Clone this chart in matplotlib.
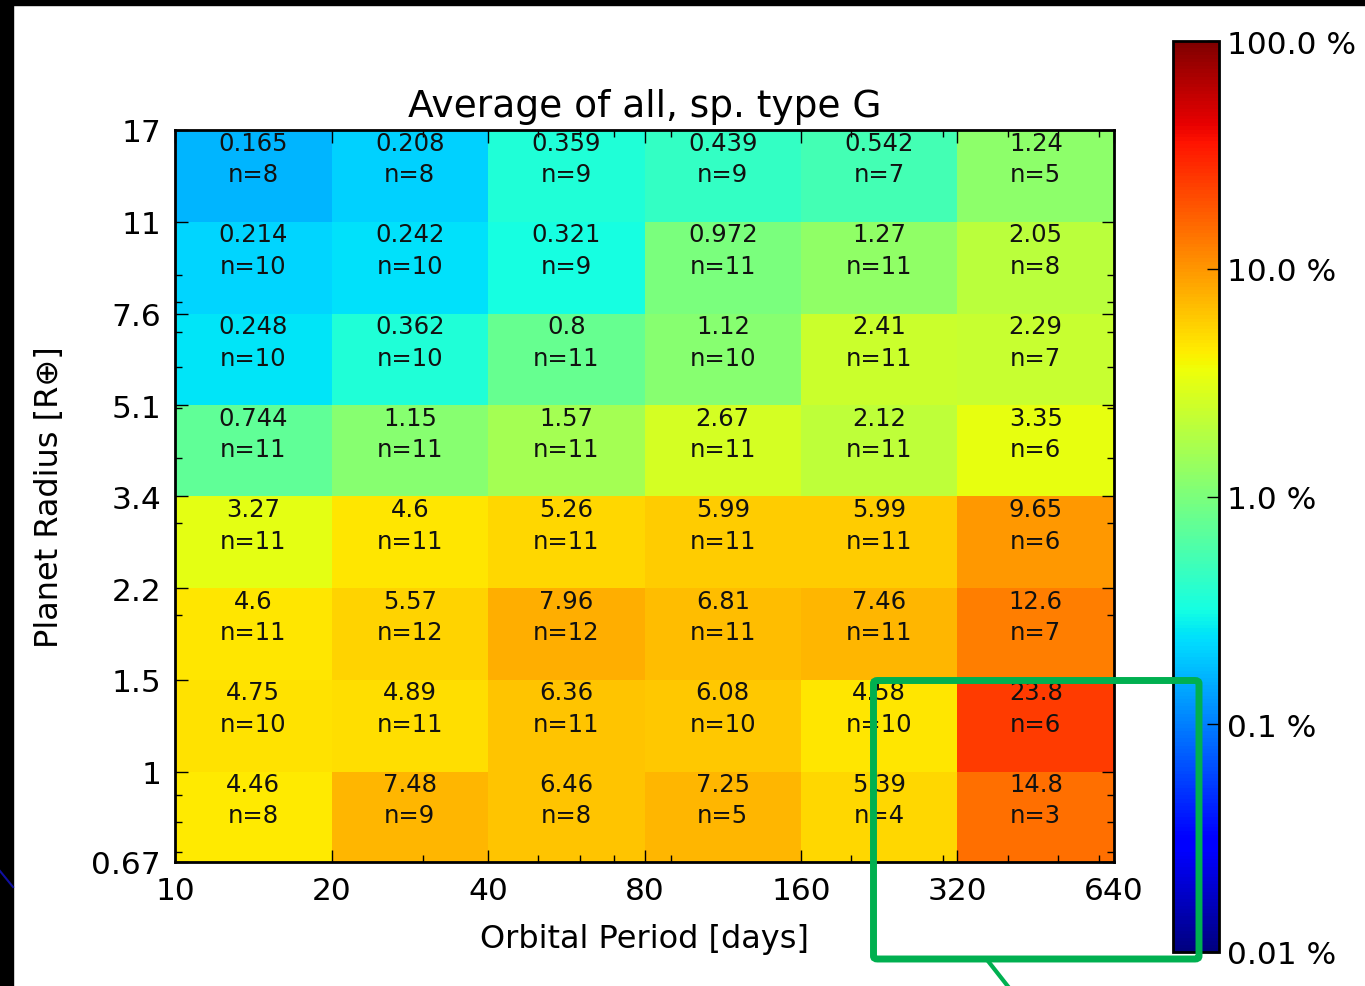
import matplotlib
matplotlib.use("Agg")
import matplotlib.pyplot as plt
import numpy as np
from matplotlib.colors import LogNorm
from matplotlib.patches import Rectangle, FancyBboxPatch
from matplotlib.lines import Line2D

# bin edges and labels
period_edges = [10, 20, 40, 80, 160, 320, 640]
period_labels = ['10', '20', '40', '80', '160', '320', '640']
radius_edges = [0.67, 1.0, 1.5, 2.25, 3.38, 5.06, 7.59, 11.4, 17.1]
radius_labels = ['0.67', '1', '1.5', '2.2', '3.4', '5.1', '7.6', '11', '17']

# occurrence rate [%], rows from smallest radius bin (0.67-1) up to 11-17
rate = [
    [4.46, 7.48, 6.46, 7.25, 5.39, 14.8],
    [4.75, 4.89, 6.36, 6.08, 4.58, 23.8],
    [4.6, 5.57, 7.96, 6.81, 7.46, 12.6],
    [3.27, 4.6, 5.26, 5.99, 5.99, 9.65],
    [0.744, 1.15, 1.57, 2.67, 2.12, 3.35],
    [0.248, 0.362, 0.8, 1.12, 2.41, 2.29],
    [0.214, 0.242, 0.321, 0.972, 1.27, 2.05],
    [0.165, 0.208, 0.359, 0.439, 0.542, 1.24],
]
# number of planets per cell
counts = [
    [8, 9, 8, 5, 4, 3],
    [10, 11, 11, 10, 10, 6],
    [11, 12, 12, 11, 11, 7],
    [11, 11, 11, 11, 11, 6],
    [11, 11, 11, 11, 11, 6],
    [10, 10, 11, 10, 11, 7],
    [10, 10, 9, 11, 11, 8],
    [8, 8, 9, 9, 7, 5],
]
cbar_ticks = [0.01, 0.1, 1, 10, 100]
cbar_labels = ['0.01 %', '0.1 %', '1.0 %', '10.0 %', '100.0 %']

plt.rcParams['font.family'] = 'DejaVu Sans'
W, H = 1365, 987
fig = plt.figure(figsize=(W / 100, H / 100), dpi=100)
fig.patch.set_facecolor('white')

ax = fig.add_axes([175 / W, 1 - 863 / H, (1114 - 175) / W, (863 - 131) / H])
norm = LogNorm(vmin=0.01, vmax=100)
mesh = ax.pcolormesh(period_edges, radius_edges, np.array(rate), cmap='jet', norm=norm)
ax.set_xscale('log')
ax.set_yscale('log')
ax.set_xlim(period_edges[0], period_edges[-1])
ax.set_ylim(radius_edges[0], radius_edges[-1])
ax.set_xticks(period_edges)
ax.set_xticklabels(period_labels)
ax.set_yticks(radius_edges)
ax.set_yticklabels(radius_labels)

#cell annotations
for i in range(len(radius_edges) - 1):
    for j in range(len(period_edges) - 1):
        x = np.sqrt(period_edges[j] * period_edges[j + 1])
        y = radius_edges[i] * (radius_edges[i + 1] / radius_edges[i]) ** 0.69
        ax.text(x, y, "%g\nn=%d" % (rate[i][j], counts[i][j]), ha='center', va='center',
                fontsize=17.5, linespacing=1.4, color='#111111')

ax.tick_params(which='both', direction='in', top=True, right=True, labelsize=22.5, pad=10, width=1)
ax.tick_params(which='major', length=9)
ax.tick_params(which='minor', length=5)
for s in ax.spines.values():
    s.set_linewidth(2)

ax.set_title('Average of all, sp. type G', fontsize=27, pad=10)
ax.set_xlabel('Orbital Period [days]', fontsize=23, labelpad=13)
ax.set_ylabel('Planet Radius [R⊕]', fontsize=23, labelpad=19)

cax = fig.add_axes([1173 / W, 1 - 953 / H, 46 / W, (953 - 42) / H])
cb = fig.colorbar(mesh, cax=cax)
cb.set_ticks(cbar_ticks)
cb.set_ticklabels(cbar_labels)
cb.minorticks_off()
cax.tick_params(direction='in', length=9, width=1, labelsize=22.5, pad=6)
cb.outline.set_linewidth(2)

# screenshot frame
fig.patches.append(Rectangle((0, 1 - 6 / H), 1, 6 / H, transform=fig.transFigure,
                             color='black', zorder=10))
fig.patches.append(Rectangle((0, 0), 13 / W, 1, transform=fig.transFigure,
                             color='black', zorder=10))
fig.lines.append(Line2D([0, 13 / W], [1 - 872 / H, 1 - 888 / H], transform=fig.transFigure,
                        color='#1010a0', lw=1.5, zorder=11))

# green highlight box
fig.patches.append(FancyBboxPatch((873.5 / W, 1 - 960 / H), (1199 - 873.5) / W, (960 - 681.5) / H,
                                  boxstyle='round,pad=0,rounding_size=0.003', transform=fig.transFigure,
                                  fill=False, edgecolor='#00b050', lw=5, zorder=12))
fig.lines.append(Line2D([988 / W, 1010 / W], [1 - 962 / H, 1 - 990 / H], transform=fig.transFigure,
                        color='#00b050', lw=3, zorder=12))

fig.savefig('out.png', dpi=100)
